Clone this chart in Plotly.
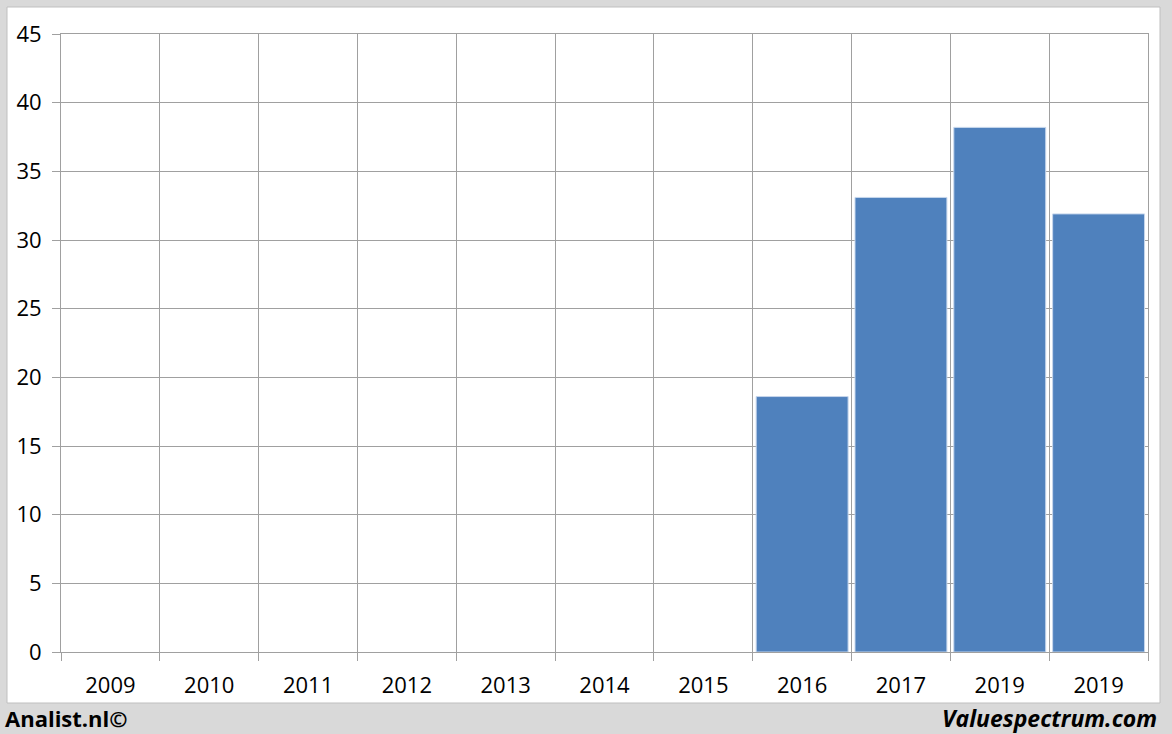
import plotly.graph_objects as go

years = ["2009", "2010", "2011", "2012", "2013", "2014", "2015", "2016", "2017", "2019", "2019"]
values = [None, None, None, None, None, None, None, 18.6, 33.1, 38.2, 31.9]
y_ticks = [0, 5, 10, 15, 20, 25, 30, 35, 40, 45]

positions = list(range(len(years)))
boundaries = [i - 0.5 for i in range(len(years) + 1)]

W, H = 1172, 734
L, R, T, B = 61, 24, 34, 82
pw, ph = W - L - R, H - T - B

def px_x(x):
    return (x - L) / pw

def px_y(y):
    return (H - B - y) / ph

fig = go.Figure()
fig.add_trace(go.Bar(
    x=positions, y=values,
    marker=dict(color="#4f81bd", line=dict(color="#c6d6ec", width=1)),
    width=0.93,
    hoverinfo="skip",
))
# invisible trace to activate the boundary grid axis
fig.add_trace(go.Scatter(x=[boundaries[0], boundaries[-1]], y=[0, 0], xaxis="x2",
                         mode="lines", line=dict(width=0), hoverinfo="skip", showlegend=False))

font_family = "Open Sans, Liberation Sans, sans-serif"
grid_color = "#a0a0a0"

fig.update_layout(
    width=W, height=H,
    margin=dict(l=L, r=R, t=T, b=B),
    paper_bgcolor="#d9d9d9",
    plot_bgcolor="white",
    showlegend=False,
    font=dict(family=font_family, size=22, color="#000000"),
    xaxis=dict(
        range=[boundaries[0], boundaries[-1]],
        tickvals=positions, ticktext=years,
        showgrid=False, zeroline=False, ticks="", showline=False,
        ticklabelstandoff=18,
        tickfont=dict(size=22),
        fixedrange=True,
    ),
    xaxis2=dict(
        overlaying="x", anchor="y", side="bottom",
        range=[boundaries[0], boundaries[-1]],
        tickvals=boundaries, showticklabels=False,
        showgrid=True, gridcolor=grid_color, gridwidth=1,
        ticks="outside", ticklen=8, tickcolor=grid_color, tickwidth=1,
        zeroline=False, showline=True, linecolor=grid_color, linewidth=1, mirror=True,
        fixedrange=True,
    ),
    yaxis=dict(
        range=[0, 45], tickvals=y_ticks,
        showgrid=True, gridcolor=grid_color, gridwidth=1,
        ticks="outside", ticklen=8, tickcolor=grid_color, tickwidth=1,
        zeroline=False, showline=True, linecolor=grid_color, linewidth=1, mirror=True,
        ticklabelstandoff=6,
        tickfont=dict(size=22),
        fixedrange=True,
    ),
    shapes=[
        dict(type="rect", xref="paper", yref="paper", layer="below",
             x0=px_x(7), x1=px_x(1160), y0=px_y(703), y1=px_y(7),
             fillcolor="white", line=dict(color="#bfbfbf", width=1)),
    ],
    annotations=[
        dict(text="<b>Analist.nl©</b>", xref="paper", yref="paper",
             x=px_x(3), y=px_y(718), xanchor="left", yanchor="middle",
             showarrow=False, font=dict(family=font_family, size=22, color="#000000")),
        dict(text="<b><i>Valuespectrum.com</i></b>", xref="paper", yref="paper",
             x=px_x(1159), y=px_y(718), xanchor="right", yanchor="middle",
             showarrow=False, font=dict(family=font_family, size=23, color="#000000")),
    ],
)

fig.write_html("out.html", config={"displayModeBar": False},
               post_script="document.body.style.margin='0';document.body.style.overflow='hidden';")
